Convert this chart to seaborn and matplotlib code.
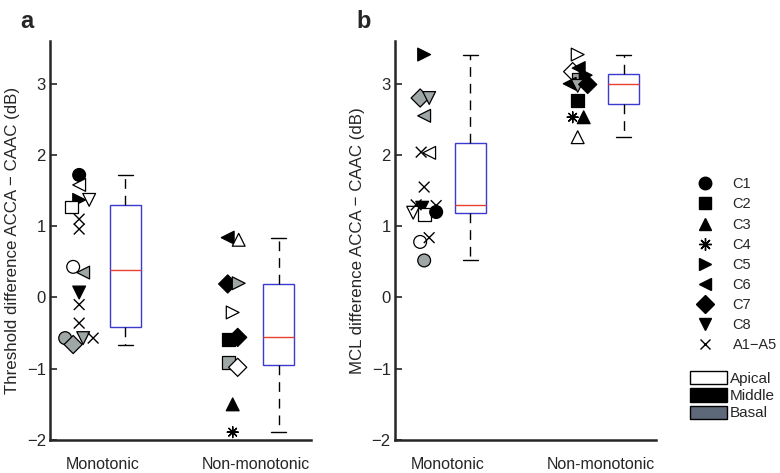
import numpy as np
import pandas as pd
import matplotlib.pyplot as plt
import seaborn as sns
from matplotlib.lines import Line2D
from matplotlib.patches import Patch

# category labels on the x axis
groups = ["Monotonic", "Non-monotonic"]

# panel a: threshold difference ACCA - CAAC (dB)
thr_mono_val = [1.72, 1.58, 1.37, 1.37, 1.27, 1.10, 0.96, 0.43, 0.35, 0.07, -0.10, -0.36, -0.57, -0.66, -0.57, -0.57]
thr_mono_subj = ["C1", "C6", "C5", "C8", "C2", "A", "A", "C1", "C6", "C8", "A", "A", "C1", "C7", "C8", "A"]
thr_mono_site = ["mid", "api", "mid", "api", "api", "-", "-", "api", "bas", "mid", "-", "-", "bas", "bas", "bas", "-"]
thr_mono_nudge = [0, 0, 0, 10, -8, 0, 0, -6, 4, 0, 0, 0, -14, -6, 4, 14]

thr_non_val = [0.84, 0.81, 0.19, 0.20, -0.21, -0.59, -0.56, -0.91, -0.98, -1.50, -1.89]
thr_non_subj = ["C6", "C3", "C7", "C5", "C5", "C2", "C7", "C2", "C7", "C3", "C4"]
thr_non_site = ["mid", "api", "mid", "bas", "api", "mid", "mid", "bas", "api", "mid", "-"]
thr_non_nudge = [-5, 6, -5, 6, 0, -4, 5, -4, 5, 0, 0]

# panel b: MCL difference ACCA - CAAC (dB)
mcl_mono_val = [3.41, 2.80, 2.80, 2.55, 2.04, 2.03, 1.55, 1.30, 1.29, 1.26, 1.19, 1.17, 1.20, 0.84, 0.78, 0.52]
mcl_mono_subj = ["C5", "C7", "C8", "C6", "A", "C6", "A", "A", "A", "C8", "C8", "C2", "C1", "A", "C1", "C1"]
mcl_mono_site = ["mid", "bas", "bas", "bas", "-", "api", "-", "-", "-", "mid", "api", "api", "mid", "-", "api", "bas"]
mcl_mono_nudge = [0, -4, 5, 0, -3, 5, 0, -8, 12, -2, -11, 0, 12, 5, -4, 0]

mcl_non_val = [3.41, 3.17, 3.22, 3.06, 3.12, 3.00, 2.97, 2.99, 2.77, 2.53, 2.53, 2.25]
mcl_non_subj = ["C5", "C7", "C6", "C2", "C5", "C6", "C8", "C7", "C2", "C4", "C3", "C3"]
mcl_non_site = ["api", "api", "mid", "bas", "mid", "mid", "bas", "mid", "mid", "-", "mid", "api"]
mcl_non_nudge = [0, -5, 1, 1, 8, -8, 0, 10, 0, -5, 6, 0]

subjects = ["C1", "C2", "C3", "C4", "C5", "C6", "C7", "C8", "A"]
subject_labels = ["C1", "C2", "C3", "C4", "C5", "C6", "C7", "C8", "A1\u2212A5"]
sites = ["Apical", "Middle", "Basal"]

MARKERS = {"C1": "o", "C2": "s", "C3": "^", "C4": (8, 2, 0), "C5": ">",
           "C6": "<", "C7": "D", "C8": "v", "A": "x"}
SITE_COLORS = {"api": "white", "mid": "black", "bas": "#9ea6a6"}
BASAL_PATCH = "#5d6878"
BOX_BLUE = "#3a3ad0"
MED_RED = "#e8402f"
PX = 1 / 153.5  # nudges were read in pixels


def frame(vals, subj, site, nudge, gi):
    df = pd.DataFrame({"value": vals, "subject": subj, "site": site})
    df["xpos"] = gi + 1 - 0.15 + np.array(nudge) * PX
    df["xbox"] = gi + 1 + 0.15
    return df


def draw_panel(ax, dfs, ylabel):
    df = pd.concat(dfs, ignore_index=True)
    sns.boxplot(data=df, x="xbox", y="value", orient="x", native_scale=True,
                width=0.2, color="white", linewidth=1.0, showfliers=False,
                boxprops=dict(edgecolor=BOX_BLUE),
                medianprops=dict(color=MED_RED),
                whiskerprops=dict(color="black", linestyle=(0, (7, 5))),
                capprops=dict(color="black"), ax=ax)
    filled = df[~df["subject"].isin(["A", "C4"])]
    sns.scatterplot(data=filled, x="xpos", y="value", style="subject",
                    markers={k: MARKERS[k] for k in filled["subject"].unique()},
                    hue="site", palette=SITE_COLORS, edgecolor="black",
                    linewidth=0.9, s=85, legend=False, ax=ax, zorder=3)
    lines = df[df["subject"].isin(["A", "C4"])]
    if len(lines):
        sns.scatterplot(data=lines, x="xpos", y="value", style="subject",
                        markers={k: MARKERS[k] for k in lines["subject"].unique()},
                        color="black", linewidth=1.0, s=60, legend=False,
                        ax=ax, zorder=4)
    ax.set_xlim(0.66, 2.36)
    ax.set_ylim(-2, 3.6)
    ax.set_xticks([1, 2], groups)
    ax.set_yticks(range(-2, 4))
    ax.tick_params(axis="x", length=0, pad=12, labelsize=11.5)
    ax.tick_params(axis="y", direction="in", length=5, width=1.2, pad=3, labelsize=12)
    ax.set_xlabel("")
    ax.set_ylabel(ylabel, fontsize=12.2, labelpad=5)
    for s in ["top", "right"]:
        ax.spines[s].set_visible(False)
    for s in ["left", "bottom"]:
        ax.spines[s].set_linewidth(1.8)


sns.set_style("ticks")
plt.rcParams["font.family"] = ["Liberation Sans", "DejaVu Sans"]

fig = plt.figure(figsize=(7.8, 4.73), dpi=100)
ax_a = fig.add_axes([0.0641, 0.0698, 0.3346, 0.8435])
ax_b = fig.add_axes([0.5064, 0.0698, 0.3346, 0.8435])

draw_panel(ax_a, [frame(thr_mono_val, thr_mono_subj, thr_mono_site, thr_mono_nudge, 0),
                  frame(thr_non_val, thr_non_subj, thr_non_site, thr_non_nudge, 1)],
           "Threshold difference ACCA \u2212 CAAC (dB)")
draw_panel(ax_b, [frame(mcl_mono_val, mcl_mono_subj, mcl_mono_site, mcl_mono_nudge, 0),
                  frame(mcl_non_val, mcl_non_subj, mcl_non_site, mcl_non_nudge, 1)],
           "MCL difference ACCA \u2212 CAAC (dB)")

fig.text(20 / 780, 1 - 21 / 473, "a", fontsize=17, fontweight="bold", va="center")
fig.text(356 / 780, 1 - 21 / 473, "b", fontsize=17, fontweight="bold", va="center")

# subject legend
handles = [Line2D([], [], marker=MARKERS[s], linestyle="none", color="black",
                  markerfacecolor="black", markersize=9 if s != "A" else 7.5)
           for s in subjects]
fig.legend(handles, subject_labels, loc="upper left", bbox_to_anchor=(0.889, 0.625),
           frameon=False, fontsize=10.5, handlelength=1.64, handletextpad=1.05,
           labelspacing=0.42, borderpad=0, borderaxespad=0)

# electrode site legend
patches = [Patch(facecolor=c, edgecolor="black", linewidth=1.0)
           for c in ["white", "black", BASAL_PATCH]]
fig.legend(patches, sites, loc="upper left", bbox_to_anchor=(0.8846, 0.215),
           frameon=False, fontsize=11, handlelength=2.4, handleheight=0.95,
           handletextpad=0.2, labelspacing=0.15, borderpad=0, borderaxespad=0)

fig.savefig("out.png", dpi=100)
